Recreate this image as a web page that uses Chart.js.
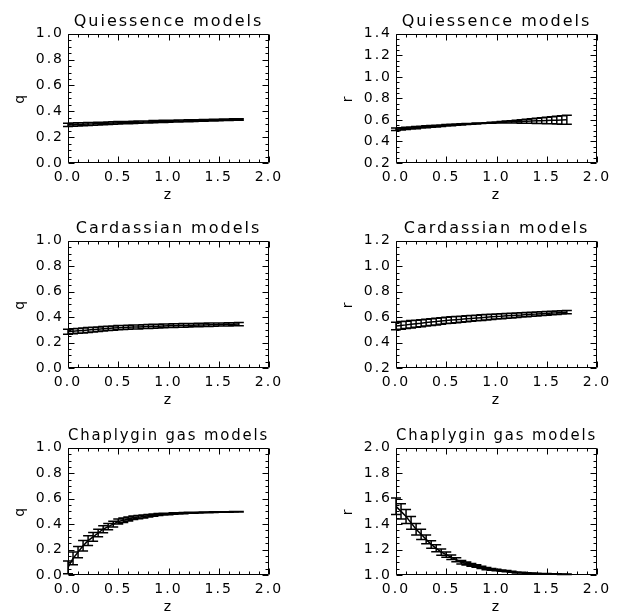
<!DOCTYPE html>
<html><head><meta charset="utf-8">
<script src="https://cdn.jsdelivr.net/npm/chart.js@4"></script>
<style>
html,body{margin:0;padding:0;background:#fff;overflow:hidden;width:638px;height:612px;position:relative;}
canvas{position:absolute;}
</style></head><body>
<canvas id="c1" width="300" height="205" style="left:0px;top:0px"></canvas>
<canvas id="c2" width="300" height="205" style="left:328px;top:0px"></canvas>
<canvas id="c3" width="300" height="203" style="left:0px;top:207px"></canvas>
<canvas id="c4" width="300" height="203" style="left:328px;top:207px"></canvas>
<canvas id="c5" width="300" height="203" style="left:0px;top:414px"></canvas>
<canvas id="c6" width="300" height="203" style="left:328px;top:414px"></canvas>
<script>
// ---- data ----
const zValues = [0.00,0.05,0.10,0.15,0.20,0.25,0.30,0.35,0.40,0.45,0.50,0.55,0.60,0.65,0.70,0.75,0.80,0.85,0.90,0.95,1.00,1.05,1.10,1.15,1.20,1.25,1.30,1.35,1.40,1.45,1.50,1.55,1.60,1.65,1.70];

const quiQ = [0.295,0.297,0.299,0.300,0.302,0.303,0.305,0.306,0.308,0.309,0.311,0.312,0.313,0.315,0.316,0.317,0.318,0.320,0.321,0.322,0.323,0.324,0.325,0.326,0.327,0.328,0.329,0.330,0.331,0.332,0.333,0.334,0.335,0.336,0.337];
const quiQErr = [0.012,0.012,0.012,0.011,0.011,0.011,0.011,0.010,0.010,0.010,0.010,0.009,0.009,0.009,0.009,0.008,0.008,0.008,0.008,0.008,0.007,0.007,0.007,0.007,0.007,0.007,0.006,0.006,0.006,0.006,0.006,0.006,0.006,0.006,0.006];

const quiR = [0.513,0.517,0.521,0.525,0.529,0.533,0.536,0.540,0.543,0.547,0.550,0.553,0.556,0.559,0.562,0.564,0.567,0.569,0.572,0.574,0.576,0.578,0.580,0.582,0.584,0.586,0.588,0.590,0.592,0.593,0.595,0.597,0.598,0.600,0.601];
const quiRErr = [0.012,0.011,0.011,0.010,0.010,0.009,0.009,0.008,0.008,0.007,0.007,0.006,0.006,0.005,0.005,0.004,0.004,0.003,0.003,0.004,0.005,0.007,0.009,0.011,0.013,0.016,0.018,0.021,0.024,0.027,0.030,0.033,0.036,0.039,0.042];

const carQ = [0.285,0.289,0.292,0.295,0.299,0.302,0.305,0.308,0.311,0.314,0.317,0.319,0.320,0.322,0.323,0.325,0.326,0.328,0.329,0.331,0.332,0.333,0.334,0.335,0.336,0.337,0.338,0.339,0.340,0.341,0.342,0.342,0.343,0.344,0.345];
const carQErr = [0.020,0.020,0.019,0.019,0.019,0.018,0.018,0.018,0.017,0.017,0.017,0.016,0.016,0.016,0.016,0.015,0.015,0.015,0.015,0.014,0.014,0.014,0.014,0.014,0.013,0.013,0.013,0.013,0.013,0.013,0.012,0.012,0.012,0.012,0.012];

const carR = [0.530,0.535,0.539,0.544,0.548,0.552,0.557,0.561,0.565,0.570,0.574,0.577,0.580,0.583,0.587,0.590,0.593,0.596,0.599,0.602,0.605,0.607,0.610,0.612,0.615,0.617,0.620,0.622,0.624,0.627,0.629,0.632,0.634,0.637,0.639];
const carRErr = [0.030,0.030,0.029,0.029,0.028,0.028,0.027,0.027,0.026,0.026,0.025,0.025,0.024,0.024,0.023,0.023,0.022,0.022,0.021,0.021,0.020,0.019,0.019,0.018,0.018,0.017,0.017,0.016,0.016,0.015,0.015,0.014,0.014,0.013,0.013];

const chapQ = [0.06,0.13,0.18,0.23,0.27,0.30,0.33,0.36,0.38,0.40,0.42,0.43,0.44,0.45,0.455,0.46,0.465,0.47,0.475,0.478,0.48,0.483,0.485,0.487,0.489,0.49,0.491,0.492,0.493,0.494,0.495,0.496,0.496,0.497,0.497];
const chapQErr = [0.05,0.05,0.045,0.042,0.038,0.034,0.03,0.027,0.025,0.022,0.02,0.018,0.016,0.014,0.012,0.011,0.01,0.009,0.008,0.007,0.006,0.006,0.005,0.005,0.004,0.004,0.003,0.003,0.003,0.003,0.002,0.002,0.002,0.002,0.002];

const chapR = [1.54,1.50,1.46,1.41,1.36,1.32,1.28,1.24,1.21,1.18,1.16,1.14,1.12,1.10,1.09,1.08,1.07,1.06,1.05,1.045,1.04,1.035,1.03,1.025,1.02,1.018,1.015,1.013,1.011,1.01,1.009,1.008,1.007,1.006,1.005];
const chapRErr = [0.065,0.06,0.055,0.05,0.045,0.04,0.035,0.03,0.027,0.024,0.021,0.018,0.016,0.014,0.012,0.011,0.01,0.009,0.008,0.007,0.006,0.005,0.005,0.004,0.004,0.003,0.003,0.003,0.002,0.002,0.002,0.002,0.002,0.002,0.002];

const panelTitles = ['Quiessence models','Quiessence models','Cardassian models','Cardassian models','Chaplygin gas models','Chaplygin gas models'];
const yLabels = ['q','r','q','r','q','r'];
const yRanges = [[0,1.0],[0.2,1.4],[0,1.0],[0.2,1.2],[0,1.0],[1.0,2.0]];
const seriesValues = [quiQ, quiR, carQ, carR, chapQ, chapR];
const seriesErrors = [quiQErr, quiRErr, carQErr, carRErr, chapQErr, chapRErr];
const xRange = [0, 2.0];

// ---- drawing ----
const FONT = "'DejaVu Sans', sans-serif";
const CAP = 5;

const idlPlugin = {
  id: 'idlFrame',
  beforeDraw(chart) { chart.ctx.letterSpacing = '2px'; },
  afterDatasetsDraw(chart) {
    const {ctx, chartArea: a, scales: {x, y}} = chart;
    ctx.save();
    ctx.strokeStyle = '#000';
    ctx.lineWidth = 1.5;
    // error bars
    chart.data.datasets.forEach(ds => {
      const errs = ds.errors;
      if (!errs) return;
      ctx.beginPath();
      ds.data.forEach((p, i) => {
        const px = x.getPixelForValue(p.x);
        const lo = y.getPixelForValue(p.y - errs[i]);
        const hi = y.getPixelForValue(p.y + errs[i]);
        ctx.moveTo(px, lo); ctx.lineTo(px, hi);
        ctx.moveTo(px - CAP, lo); ctx.lineTo(px + CAP, lo);
        ctx.moveTo(px - CAP, hi); ctx.lineTo(px + CAP, hi);
      });
      ctx.stroke();
    });
    // frame
    ctx.lineWidth = 1;
    const L = Math.round(a.left) + 0.5, R = Math.round(a.right) - 0.5;
    const T = Math.round(a.top) + 0.5, B = Math.round(a.bottom) - 0.5;
    ctx.beginPath();
    ctx.rect(L, T, R - L, B - T);
    // x ticks (major 0.5, minor 0.1)
    const nx = Math.round((x.max - x.min) / 0.1);
    for (let k = 0; k <= nx; k++) {
      const v = x.min + k * 0.1;
      const px = Math.round(x.getPixelForValue(v)) + 0.5;
      const len = (k % 5 === 0) ? 6 : 3;
      ctx.moveTo(px, B); ctx.lineTo(px, B - len);
      ctx.moveTo(px, T); ctx.lineTo(px, T + len);
    }
    // y ticks (major 0.2, minor 0.05)
    const ny = Math.round((y.max - y.min) / 0.05);
    for (let k = 0; k <= ny; k++) {
      const v = y.min + k * 0.05;
      const py = Math.round(y.getPixelForValue(v)) + 0.5;
      const len = (k % 4 === 0) ? 6 : 3;
      ctx.moveTo(L, py); ctx.lineTo(L + len, py);
      ctx.moveTo(R, py); ctx.lineTo(R - len, py);
    }
    ctx.stroke();
    ctx.restore();
  }
};

panelTitles.forEach((title, i) => {
  const vals = seriesValues[i];
  new Chart(document.getElementById('c' + (i + 1)), {
    type: 'line',
    data: {
      datasets: [{
        data: zValues.map((z, j) => ({x: z, y: vals[j]})),
        errors: seriesErrors[i],
        borderColor: '#000',
        borderWidth: 1.5,
        pointRadius: 0,
        tension: 0,
        fill: false
      }]
    },
    options: {
      responsive: false,
      animation: false,
      devicePixelRatio: 1,
      layout: {padding: {left: 0, right: 31, top: 0, bottom: 0}},
      plugins: {
        legend: {display: false},
        tooltip: {enabled: false},
        title: {
          display: true, text: title, color: '#000', fullSize: false,
          font: {family: FONT, size: 16, weight: 'normal'},
          padding: {top: 12, bottom: 2.6}
        }
      },
      scales: {
        x: {
          type: 'linear', min: xRange[0], max: xRange[1],
          afterFit(s) { s.height = 42; },
          grid: {display: false, drawTicks: false},
          border: {display: false},
          ticks: {stepSize: 0.5, padding: 6, color: '#000', maxRotation: 0, autoSkip: false,
                  font: {family: FONT, size: 14}, callback: v => Number(v).toFixed(1)},
          title: {display: true, text: 'z', color: '#000', font: {family: FONT, size: 14},
                  padding: {top: 0, bottom: 1}}
        },
        y: {
          type: 'linear', min: yRanges[i][0], max: yRanges[i][1],
          afterFit(s) { s.width = 68; },
          grid: {display: false, drawTicks: false},
          border: {display: false},
          ticks: {stepSize: 0.2, padding: 4, color: '#000', autoSkip: false,
                  font: {family: FONT, size: 14}, callback: v => Number(v).toFixed(1)},
          title: {display: true, text: yLabels[i], color: '#000', font: {family: FONT, size: 14},
                  padding: {top: 12, bottom: 0}}
        }
      }
    },
    plugins: [idlPlugin]
  });
});
</script>
</body></html>
